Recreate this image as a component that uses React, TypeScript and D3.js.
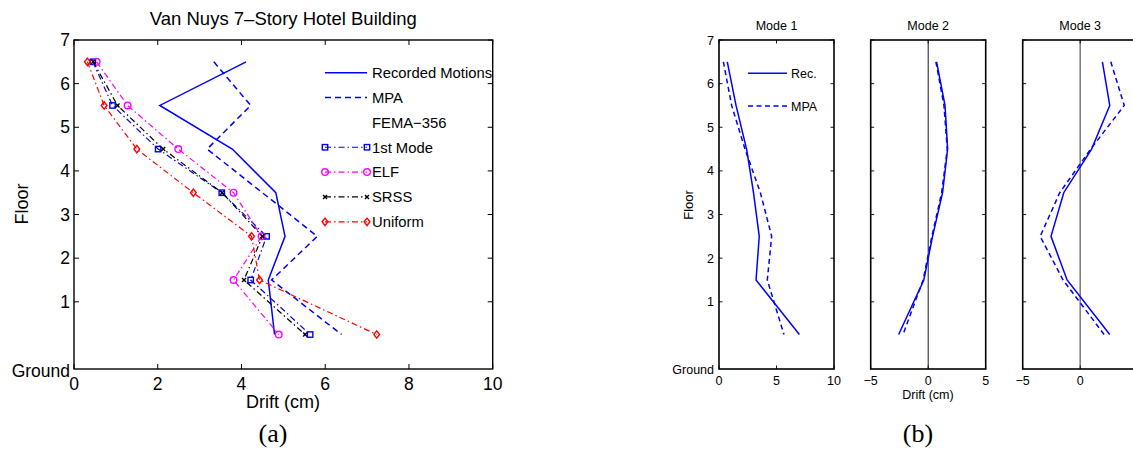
import React from "react";
import * as d3 from "d3";

// ---------- data ----------
const floors = [6.5, 5.5, 4.5, 3.5, 2.5, 1.5, 0.25];
const floorTicks = [1, 2, 3, 4, 5, 6, 7];
const groundValue = -0.54;

const recorded = [4.11, 2.05, 3.78, 4.82, 5.04, 4.64, 4.79];
const mpa = [3.34, 4.22, 3.18, 4.5, 5.81, 4.72, 6.39];
const firstMode = [0.45, 0.92, 2.01, 3.53, 4.6, 4.22, 5.64];
const elf = [0.54, 1.28, 2.49, 3.81, 4.48, 3.81, 4.89];
const srss = [0.46, 1.04, 2.13, 3.54, 4.5, 4.06, 5.52];
const uniform = [0.32, 0.72, 1.5, 2.85, 4.24, 4.43, 7.23];

const leftXTicks = [0, 2, 4, 6, 8, 10];

const mode1Rec = [0.72, 1.48, 2.4, 3.0, 3.5, 3.22, 6.99];
const mode1Mpa = [0.38, 1.1, 2.26, 3.6, 4.58, 4.2, 5.65];
const mode2Rec = [0.73, 1.46, 1.69, 1.25, 0.38, -0.38, -2.57];
const mode2Mpa = [0.67, 1.37, 1.66, 1.17, 0.32, -0.44, -2.19];
const mode3Rec = [1.93, 2.57, 0.99, -1.43, -2.54, -1.14, 2.57];
const mode3Mpa = [2.66, 3.83, 0.91, -1.78, -3.48, -1.49, 2.08];

const modeTitles = ["Mode 1", "Mode 2", "Mode 3"];
const modeDomains: [number, number][] = [[0, 10], [-5, 5], [-5, 5]];
const modeTicks = [[0, 5, 10], [-5, 0, 5], [-5, 0, 5]];
const modeTickLabels = [["0", "5", "10"], ["\u22125", "0", "5"], ["\u22125", "0", ""]];

const SANS = "'Liberation Sans', Arial, Helvetica, sans-serif";
const SERIF = "'Liberation Serif', 'Times New Roman', serif";

const DASH = "6,4";
const DASHDOT = "6,3,1.5,3";

type MarkerKind = "square" | "circle" | "x" | "diamond" | "none";

function Marker({ kind, x, y, color }: { kind: MarkerKind; x: number; y: number; color: string }) {
  if (kind === "square")
    return <rect x={x - 2.7} y={y - 2.7} width={5.4} height={5.4} fill="none" stroke={color} strokeWidth={1.4} />;
  if (kind === "circle") return <circle cx={x} cy={y} r={3.3} fill="none" stroke={color} strokeWidth={1.4} />;
  if (kind === "diamond")
    return (
      <path
        d={`M${x},${y - 3.7}L${x + 2.9},${y}L${x},${y + 3.7}L${x - 2.9},${y}Z`}
        fill="none"
        stroke={color}
        strokeWidth={1.4}
      />
    );
  if (kind === "x")
    return (
      <path
        d={`M${x - 2},${y - 2}L${x + 2},${y + 2}M${x - 2},${y + 2}L${x + 2},${y - 2}`}
        stroke={color}
        strokeWidth={1.4}
      />
    );
  return null;
}

export default function App() {
  // ---------- left chart ----------
  const L = { x0: 74, x1: 492.7, y0: 40, y1: 369 };
  const lx = d3.scaleLinear().domain([0, 10]).range([L.x0, L.x1]);
  const ly = d3.scaleLinear().domain([groundValue, 7]).range([L.y1, L.y0]);

  const leftSeries = [
    { name: "Recorded Motions", vals: recorded, color: "#0000ff", dash: "", marker: "none" as MarkerKind, w: 1.5 },
    { name: "MPA", vals: mpa, color: "#0000ff", dash: DASH, marker: "none" as MarkerKind, w: 1.5 },
    { name: "1st Mode", vals: firstMode, color: "#0000ff", dash: DASHDOT, marker: "square" as MarkerKind, w: 1.2 },
    { name: "ELF", vals: elf, color: "#ff00ff", dash: DASHDOT, marker: "circle" as MarkerKind, w: 1.2 },
    { name: "SRSS", vals: srss, color: "#000000", dash: DASHDOT, marker: "x" as MarkerKind, w: 1.2 },
    { name: "Uniform", vals: uniform, color: "#ff0000", dash: DASHDOT, marker: "diamond" as MarkerKind, w: 1.2 },
  ];

  const lineL = d3
    .line<number>()
    .x((d) => lx(d))
    .y((_, i) => ly(floors[i]));

  const legendRows = [
    { label: "Recorded Motions", s: leftSeries[0] },
    { label: "MPA", s: leftSeries[1] },
    { label: "FEMA\u2212356", s: null },
    { label: "1st Mode", s: leftSeries[2] },
    { label: "ELF", s: leftSeries[3] },
    { label: "SRSS", s: leftSeries[4] },
    { label: "Uniform", s: leftSeries[5] },
  ];

  const tickLen = 5;

  // ---------- right chart ----------
  const panelX: [number, number][] = [
    [719, 834],
    [870.7, 985.7],
    [1022.7, 1137.7],
  ];
  const R = { y0: 40, y1: 369 };
  const ry = d3.scaleLinear().domain([groundValue, 7]).range([R.y1, R.y0]);
  const modeData = [
    [mode1Rec, mode1Mpa],
    [mode2Rec, mode2Mpa],
    [mode3Rec, mode3Mpa],
  ];

  return (
    <svg
      width={1133}
      height={451}
      style={{ position: "absolute", left: 0, top: 0, background: "#fff" }}
      fontFamily={SANS}
    >
      <rect x={0} y={0} width={1133} height={451} fill="#fff" />
      {/* ======== LEFT CHART ======== */}
      <text x={(L.x0 + L.x1) / 2} y={25} textAnchor="middle" fontSize={18.5} fill="#000">
        Van Nuys 7{"\u2013"}Story Hotel Building
      </text>
      {leftXTicks.map((t) => (
        <g key={"lxt" + t}>
          <line x1={lx(t)} x2={lx(t)} y1={L.y1} y2={L.y1 - tickLen} stroke="#000" strokeWidth={1} />
          <line x1={lx(t)} x2={lx(t)} y1={L.y0} y2={L.y0 + tickLen} stroke="#000" strokeWidth={1} />
          <text x={lx(t)} y={390} textAnchor="middle" fontSize={17.5}>
            {t}
          </text>
        </g>
      ))}
      {floorTicks.map((t) => (
        <g key={"lyt" + t}>
          <line x1={L.x0} x2={L.x0 + tickLen} y1={ly(t)} y2={ly(t)} stroke="#000" strokeWidth={1} />
          <line x1={L.x1} x2={L.x1 - tickLen} y1={ly(t)} y2={ly(t)} stroke="#000" strokeWidth={1} />
          <text x={70} y={ly(t) + 6} textAnchor="end" fontSize={17.5}>
            {t}
          </text>
        </g>
      ))}
      <text x={70} y={ly(groundValue) + 8} textAnchor="end" fontSize={17.5}>
        Ground
      </text>
      <text x={283} y={408} textAnchor="middle" fontSize={18}>
        Drift (cm)
      </text>
      <text transform={`translate(28,204) rotate(-90)`} textAnchor="middle" fontSize={18}>
        Floor
      </text>

      {leftSeries.map((s) => (
        <g key={s.name}>
          <path d={lineL(s.vals) || ""} fill="none" stroke={s.color} strokeWidth={s.w} strokeDasharray={s.dash} />
          {s.marker !== "none" &&
            s.vals.map((v, i) => <Marker key={i} kind={s.marker} x={lx(v)} y={ly(floors[i])} color={s.color} />)}
        </g>
      ))}

      {legendRows.map((r, i) => {
        const y = 72.7 + i * 24.85;
        return (
          <g key={r.label}>
            {r.s && (
              <>
                <line
                  x1={325}
                  x2={367}
                  y1={y}
                  y2={y}
                  stroke={r.s.color}
                  strokeWidth={r.s.w}
                  strokeDasharray={r.s.dash}
                />
                {r.s.marker !== "none" && (
                  <>
                    <Marker kind={r.s.marker} x={325} y={y} color={r.s.color} />
                    <Marker kind={r.s.marker} x={367} y={y} color={r.s.color} />
                  </>
                )}
              </>
            )}
            <text x={372} y={y + 5.3} fontSize={14.8}>
              {r.label}
            </text>
          </g>
        );
      })}
      <rect x={L.x0} y={L.y0} width={L.x1 - L.x0} height={L.y1 - L.y0} fill="none" stroke="#000" strokeWidth={1.4} />

      <text x={273} y={442} textAnchor="middle" fontSize={26} fontFamily={SERIF}>
        (a)
      </text>

      {/* ======== RIGHT CHART ======== */}
      {panelX.map(([x0, x1], p) => {
        const sx = d3.scaleLinear().domain(modeDomains[p]).range([x0, x1]);
        const line = d3
          .line<number>()
          .x((d) => sx(d))
          .y((_, i) => ry(floors[i]));
        const [rec, mp] = modeData[p];
        return (
          <g key={"panel" + p}>
            <text x={(x0 + x1) / 2} y={30} textAnchor="middle" fontSize={12.5}>
              {modeTitles[p]}
            </text>
            {p > 0 && (
              <line
                x1={sx(0)}
                x2={sx(0)}
                y1={R.y0}
                y2={R.y1}
                stroke={p === 2 ? "#808080" : "#000"}
                strokeWidth={p === 2 ? 1.6 : 0.9}
              />
            )}
            {modeTicks[p].map((t, k) => (
              <g key={"mt" + t}>
                <line x1={sx(t)} x2={sx(t)} y1={R.y1} y2={R.y1 - 3.5} stroke="#000" strokeWidth={0.9} />
                <line x1={sx(t)} x2={sx(t)} y1={R.y0} y2={R.y0 + 3.5} stroke="#000" strokeWidth={0.9} />
                {modeTickLabels[p][k] && (
                  <text x={sx(t)} y={385} textAnchor="middle" fontSize={12.5}>
                    {modeTickLabels[p][k]}
                  </text>
                )}
              </g>
            ))}
            {floorTicks.map((t) => (
              <g key={"ft" + t}>
                <line x1={x0} x2={x0 + 3.5} y1={ry(t)} y2={ry(t)} stroke="#000" strokeWidth={0.9} />
                <line x1={x1} x2={x1 - 3.5} y1={ry(t)} y2={ry(t)} stroke="#000" strokeWidth={0.9} />
                {p === 0 && (
                  <text x={714} y={ry(t) + 4.5} textAnchor="end" fontSize={12.5}>
                    {t}
                  </text>
                )}
              </g>
            ))}
            <path d={line(rec) || ""} fill="none" stroke="#0000ff" strokeWidth={1.5} />
            <path d={line(mp) || ""} fill="none" stroke="#0000ff" strokeWidth={1.5} strokeDasharray="5,3.5" />
            <rect x={x0} y={R.y0} width={x1 - x0} height={R.y1 - R.y0} fill="none" stroke="#000" strokeWidth={1.6} />
          </g>
        );
      })}
      <text x={714} y={ry(groundValue) + 5} textAnchor="end" fontSize={12.5}>
        Ground
      </text>
      <text transform={`translate(693,205) rotate(-90)`} textAnchor="middle" fontSize={13}>
        Floor
      </text>
      <text x={928} y={399} textAnchor="middle" fontSize={12.5}>
        Drift (cm)
      </text>
      <line x1={748} x2={787} y1={73.3} y2={73.3} stroke="#0000ff" strokeWidth={1.5} />
      <text x={791} y={77.8} fontSize={12.5}>
        Rec.
      </text>
      <line x1={748} x2={787} y1={106} y2={106} stroke="#0000ff" strokeWidth={1.5} strokeDasharray="5,3.5" />
      <text x={791} y={110.5} fontSize={12.5}>
        MPA
      </text>
      <text x={918} y={442} textAnchor="middle" fontSize={26} fontFamily={SERIF}>
        (b)
      </text>
    </svg>
  );
}
